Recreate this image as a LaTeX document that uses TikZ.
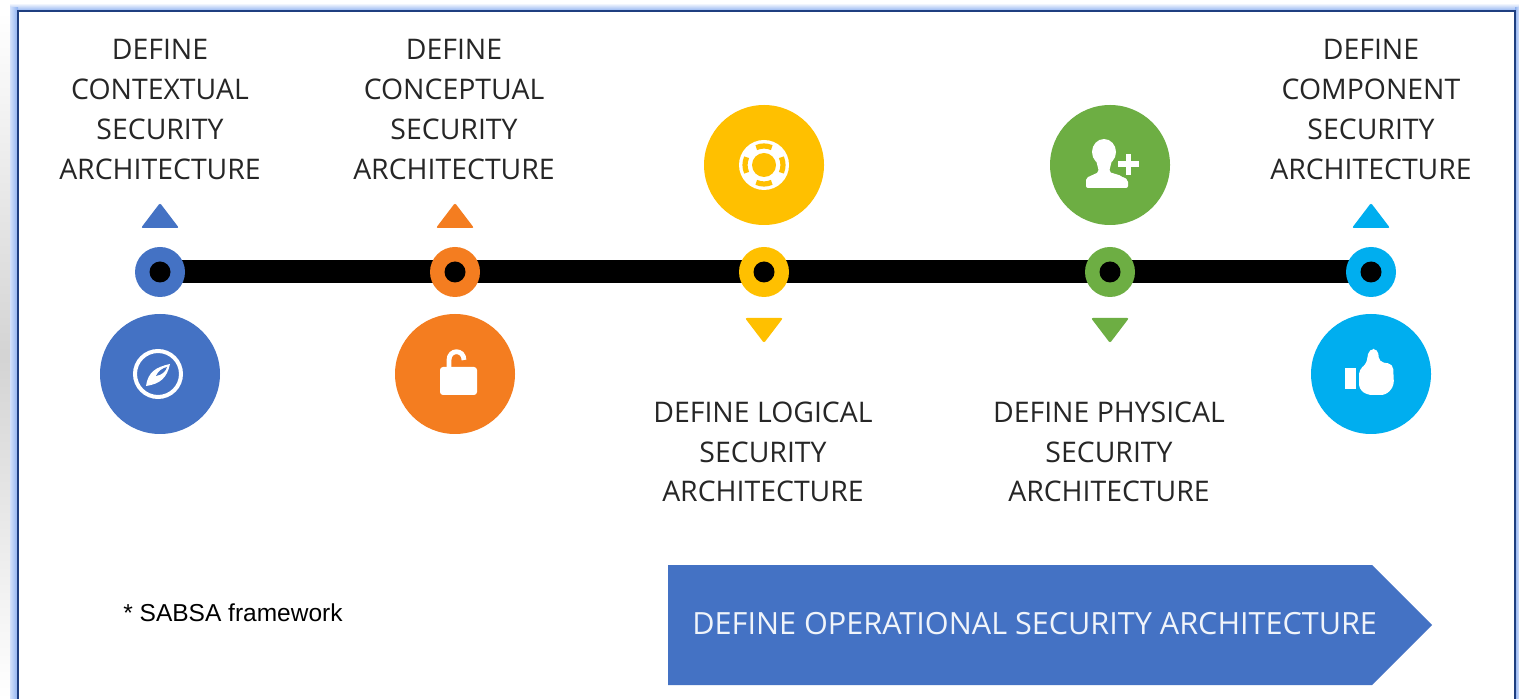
\documentclass[tikz,border=0pt]{standalone}
\usepackage{fontspec}
\setmainfont{Open Sans}
\usetikzlibrary{backgrounds}
\definecolor{stepblue}{HTML}{4472C4}
\definecolor{steporange}{HTML}{F47D20}
\definecolor{stepyellow}{HTML}{FFC000}
\definecolor{stepgreen}{HTML}{6DAE43}
\definecolor{stepcyan}{HTML}{00AEEF}
\definecolor{frameblue}{HTML}{1F3F80}
\definecolor{glowblue}{HTML}{8DB0F0}
\definecolor{glowpale}{HTML}{D3E1FB}
\definecolor{labelgray}{HTML}{262626}
\tikzset{
  stepdot/.style={circle, inner sep=0pt, minimum size=25pt},
  stepdisc/.style={circle, inner sep=0pt, minimum size=60pt},
  steplabel/.style={align=center, text=labelgray, inner sep=0pt,
    font=\fontsize{14.2}{19.85}\selectfont},
  timeline/.style={line width=11.5pt, black},
  icon/.style={fill=white, draw=none},
}
% dot on the line: name, x, colour
\newcommand\stepdot[3]{
  \node[stepdot, fill=#3] (#1) at (#2, 272) {};
  \fill[black] (#2, 272) circle[radius=10.5];
}
\newcommand\markup[2]{
  \fill[#2, rounded corners=1pt] (#1 - 19, 228) -- (#1, 203) -- (#1 + 19, 228) -- cycle;
}
\newcommand\markdown[2]{
  \fill[#2, rounded corners=1pt] (#1 - 19, 318) -- (#1 + 19, 318) -- (#1, 343) -- cycle;
}
\begin{document}
\begin{tikzpicture}[x=.5pt, y=-.5pt]
  \useasboundingbox (0, 0) rectangle (1519, 699);
  % frame
  \begin{scope}[on background layer]
    \fill[white] (0, 0) rectangle (1519, 699);
    \shade[top color=white, bottom color=white, middle color=black!17] (0, 12) rectangle (10, 699);
    \shade[top color=white, bottom color=glowblue] (10, 3) rectangle (1519, 11);
    \shade[left color=glowpale, right color=glowblue] (10, 8) rectangle (18, 699);
    \shade[left color=glowblue, right color=glowpale] (1515, 8) rectangle (1519, 699);
    \draw[frameblue, line width=1pt, fill=white] (18, 11) rectangle (1515, 702);
  \end{scope}
  % line and dots
  \stepdot{dotcontext}{160}{stepblue}
  \stepdot{dotconcept}{455}{steporange}
  \stepdot{dotlogical}{764}{stepyellow}
  \stepdot{dotphysical}{1110}{stepgreen}
  \stepdot{dotcomponent}{1371}{stepcyan}
  \begin{scope}[on background layer]
    \draw[timeline] (dotcontext.center) -- (dotcomponent.center);
  \end{scope}
  \markup{160}{stepblue}
  \markup{455}{steporange}
  \markdown{764}{stepyellow}
  \markdown{1110}{stepgreen}
  \markup{1371}{stepcyan}
  % discs
  \node[stepdisc, fill=stepblue] (disccontext) at (160, 374) {};
  \node[stepdisc, fill=steporange] (discconcept) at (455, 374) {};
  \node[stepdisc, fill=stepyellow] (disclogical) at (764, 165) {};
  \node[stepdisc, fill=stepgreen] (discphysical) at (1110, 165) {};
  \node[stepdisc, fill=stepcyan] (disccomponent) at (1371, 374) {};
  % compass
  \draw[white, line width=2pt] (158, 374) circle[radius=23];
  \fill[white] (146, 386) .. controls (148, 372) and (156, 367) .. (170, 364)
    .. controls (167, 378) and (160, 384) .. (146, 386) -- cycle;
  \fill[stepblue] (156, 376) .. controls (158, 371) and (163, 368) .. (167, 367)
    .. controls (166, 371) and (162, 375) .. (156, 376) -- cycle;
  % open lock
  \fill[icon, rounded corners=1.5pt] (440, 367) rectangle (477, 395);
  \draw[white, line width=2.4pt] (449, 369) -- (449, 360)
    .. controls (449, 349) and (464, 349) .. (464, 360);
  % lifebuoy
  \fill[white] (764, 165) circle[radius=25];
  \fill[stepyellow] (764, 165) circle[radius=12];
  \foreach \a in {0, 90, 180, 270}
    \draw[stepyellow, line width=2.6pt] (764, 165) ++ (\a - 24:19) arc[start angle=\a - 24, end angle=\a + 24, radius=19];
  % user with plus
  \fill[white] (1104, 152) ellipse[x radius=12, y radius=13];
  \fill[white, rounded corners=1pt] (1086, 188) -- (1086, 178) -- (1099, 172) -- (1096, 160)
    -- (1112, 160) -- (1109, 172) -- (1122, 176) -- (1128, 180) -- (1128, 188) -- cycle;
  \fill[stepgreen] (1128, 164) circle[radius=14];
  \fill[white] (1118, 161.5) rectangle (1139, 167);
  \fill[white] (1125.5, 154) rectangle (1131, 175);
  % thumb up
  \fill[white] (1345, 368) rectangle (1356, 389);
  \fill[white, rounded corners=2.5pt] (1359, 369) -- (1366, 365) -- (1369, 349) -- (1378, 349)
    -- (1379, 362) -- (1393, 364) -- (1394, 386) -- (1386, 395) -- (1367, 395) -- (1359, 389) -- cycle;
  % labels
  \node[steplabel] (labelcontext) at (160, 109.5) {DEFINE\\CONTEXTUAL\\SECURITY\\ARCHITECTURE};
  \node[steplabel] (labelconcept) at (454, 109.5) {DEFINE\\CONCEPTUAL\\SECURITY\\ARCHITECTURE};
  \node[steplabel] (labelcomponent) at (1371, 109.5) {DEFINE\\COMPONENT\\SECURITY\\ARCHITECTURE};
  \node[steplabel] (labellogical) at (763, 452) {DEFINE LOGICAL\\SECURITY\\ARCHITECTURE};
  \node[steplabel] (labelphysical) at (1109, 452) {DEFINE PHYSICAL\\SECURITY\\ARCHITECTURE};
  % operational arrow
  \fill[stepblue] (668, 565) -- (1372, 565) -- (1432, 625) -- (1372, 685) -- (668, 685) -- cycle;
  \node[steplabel, anchor=west, text=white!92!stepblue, font=\fontsize{15.3}{19}\selectfont] (labeloperational) at (692, 624) {DEFINE OPERATIONAL SECURITY ARCHITECTURE};
  \node[anchor=west, inner sep=0pt, font=\fontspec{Liberation Sans}\fontsize{12.25}{14}\selectfont] (labelsabsa) at (123, 613) {* SABSA framework};
\end{tikzpicture}
\end{document}
